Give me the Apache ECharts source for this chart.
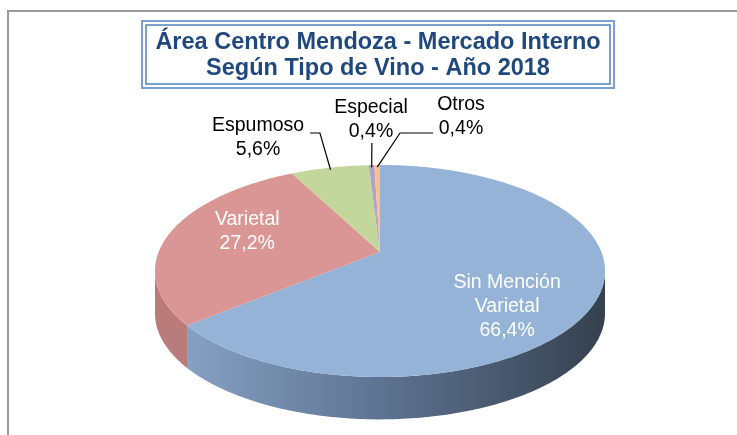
<!DOCTYPE html>
<html lang="es">
<head>
    <meta charset="UTF-8">
    <title>Área Centro Mendoza - Mercado Interno</title>
    <script src="https://cdn.jsdelivr.net/npm/echarts@6/dist/echarts.min.js"></script>
    <style>
        html, body { margin: 0; padding: 0; background: #fff; }
        #chart { width: 737px; height: 435px; }
    </style>
</head>
<body>
    <div id="chart"></div>
    <script>
        // datos
        var names = ['Sin Mención\nVarietal', 'Varietal', 'Espumoso', 'Especial', 'Otros'];
        var values = [66.4, 27.2, 5.6, 0.4, 0.4];
        var topColors = ['#95b3d7', '#d99694', '#c3d69b', '#b3a2c7', '#fac090'];
        var sideColors = ['#6d86a6', '#b97c7a', '#9fb07c', '#9385a8', '#d4a078'];

        // posicion de las etiquetas (coordenadas del grid, elipse = circulo unidad)
        var labelAt = [[0.565, -0.34], [-0.59, 0.37], [-0.542, 1.255], [-0.04, 1.425], [0.36, 1.453]];
        var labelInside = [true, true, false, false, false];
        // lineas guia: [inicio, codo] en coordenadas del grid
        var leaders = [null, null,
            [[-0.311, 1.302], [-0.267, 1.302]],
            [[-0.036, 1.208], [-0.036, 1.208]],
            [[0.236, 1.302], [0.089, 1.302]]];

        var DEPTH = 0.40;
        var APEX = 0.18; // vértice algo elevado por la perspectiva
        var total = values.reduce(function (a, b) { return a + b; }, 0);
        var starts = [], ends = [];
        var acc = 0;
        for (var i = 0; i < values.length; i++) {
            starts.push(acc / total * Math.PI * 2);
            acc += values[i];
            ends.push(acc / total * Math.PI * 2);
        }

        function fmt(v) {
            return v.toFixed(1).replace('.', ',') + '%';
        }

        function arc(api, a0, a1, dy) {
            var pts = [];
            var n = Math.max(4, Math.ceil((a1 - a0) / 0.02));
            for (var k = 0; k <= n; k++) {
                var t = a0 + (a1 - a0) * k / n;
                pts.push(api.coord([Math.sin(t), Math.cos(t) - dy]));
            }
            return pts;
        }

        function renderSide(params, api) {
            var i = params.dataIndex;
            var a0 = Math.max(starts[i], Math.PI / 2);
            var a1 = Math.min(ends[i], Math.PI * 1.5);
            if (a1 <= a0) return;
            var top = arc(api, a0, a1, 0);
            var bottom = arc(api, a0, a1, DEPTH).reverse();
            var fill = sideColors[i];
            if (i === 0) {
                var l = api.coord([-1, 0]), r = api.coord([1, 0]);
                fill = new echarts.graphic.LinearGradient(l[0], 0, r[0], 0, [
                    {offset: 0, color: '#8ca8cb'},
                    {offset: 0.5, color: '#5e7391'},
                    {offset: 1, color: '#36414f'}
                ], true);
            }
            return {
                type: 'polygon',
                shape: {points: top.concat(bottom)},
                style: {fill: fill}
            };
        }

        function renderTop(params, api) {
            var i = params.dataIndex;
            var pts = [api.coord([0, APEX])].concat(arc(api, starts[i], ends[i], 0));
            var children = [{
                type: 'polygon',
                shape: {points: pts},
                style: {fill: topColors[i]}
            }];
            var lp = api.coord(labelAt[i]);
            children.push({
                type: 'text',
                x: lp[0],
                y: lp[1],
                z2: 100,
                style: {
                    text: names[i] + '\n' + fmt(values[i]),
                    fill: labelInside[i] ? '#ffffff' : '#000000',
                    fontSize: 19.5,
                    fontFamily: 'Arial, "Liberation Sans", sans-serif',
                    lineHeight: 24,
                    align: 'center',
                    verticalAlign: 'middle'
                }
            });
            if (leaders[i]) {
                var mid = (starts[i] + ends[i]) / 2;
                var edge = api.coord([Math.sin(mid) * 0.98, Math.cos(mid) * 0.98]);
                children.push({
                    type: 'polyline',
                    z2: 90,
                    shape: {points: [api.coord(leaders[i][0]), api.coord(leaders[i][1]), edge]},
                    style: {stroke: '#000', lineWidth: 1.2, fill: null}
                });
            }
            return {type: 'group', children: children};
        }

        var seriesData = values.map(function (v, i) {
            return {name: names[i], value: [0, 0, v]};
        });

        var chart = echarts.init(document.getElementById('chart'));
        var option = {
            animation: false,
            grid: {left: 155, top: 165, width: 450, height: 212},
            xAxis: {type: 'value', min: -1, max: 1, show: false},
            yAxis: {type: 'value', min: -1, max: 1, show: false},
            graphic: [
                {
                    type: 'polyline',
                    shape: {points: [[8, 435], [8, 11], [737, 11]]},
                    style: {stroke: '#9a9a9a', lineWidth: 2, fill: null}
                },
                {
                    type: 'rect',
                    shape: {x: 142, y: 21, width: 472, height: 67},
                    style: {fill: '#fff', stroke: '#7aa0d2', lineWidth: 2}
                },
                {
                    type: 'rect',
                    shape: {x: 146, y: 25, width: 464, height: 59},
                    style: {fill: null, stroke: '#4f81bd', lineWidth: 1.5}
                },
                {
                    type: 'text',
                    x: 378,
                    y: 56,
                    style: {
                        text: 'Área Centro Mendoza - Mercado Interno\nSegún Tipo de Vino - Año 2018',
                        fill: '#1f497d',
                        fontSize: 23.5,
                        fontWeight: 'bold',
                        fontFamily: 'Arial, "Liberation Sans", sans-serif',
                        lineHeight: 26,
                        align: 'center',
                        verticalAlign: 'middle'
                    }
                }
            ],
            series: [
                {
                    type: 'custom',
                    name: 'lados',
                    coordinateSystem: 'cartesian2d',
                    renderItem: renderSide,
                    data: seriesData,
                    silent: true,
                    z: 1
                },
                {
                    type: 'custom',
                    name: 'Tipo de Vino',
                    coordinateSystem: 'cartesian2d',
                    renderItem: renderTop,
                    data: seriesData,
                    z: 2
                }
            ]
        };
        chart.setOption(option);
    </script>
</body>
</html>
